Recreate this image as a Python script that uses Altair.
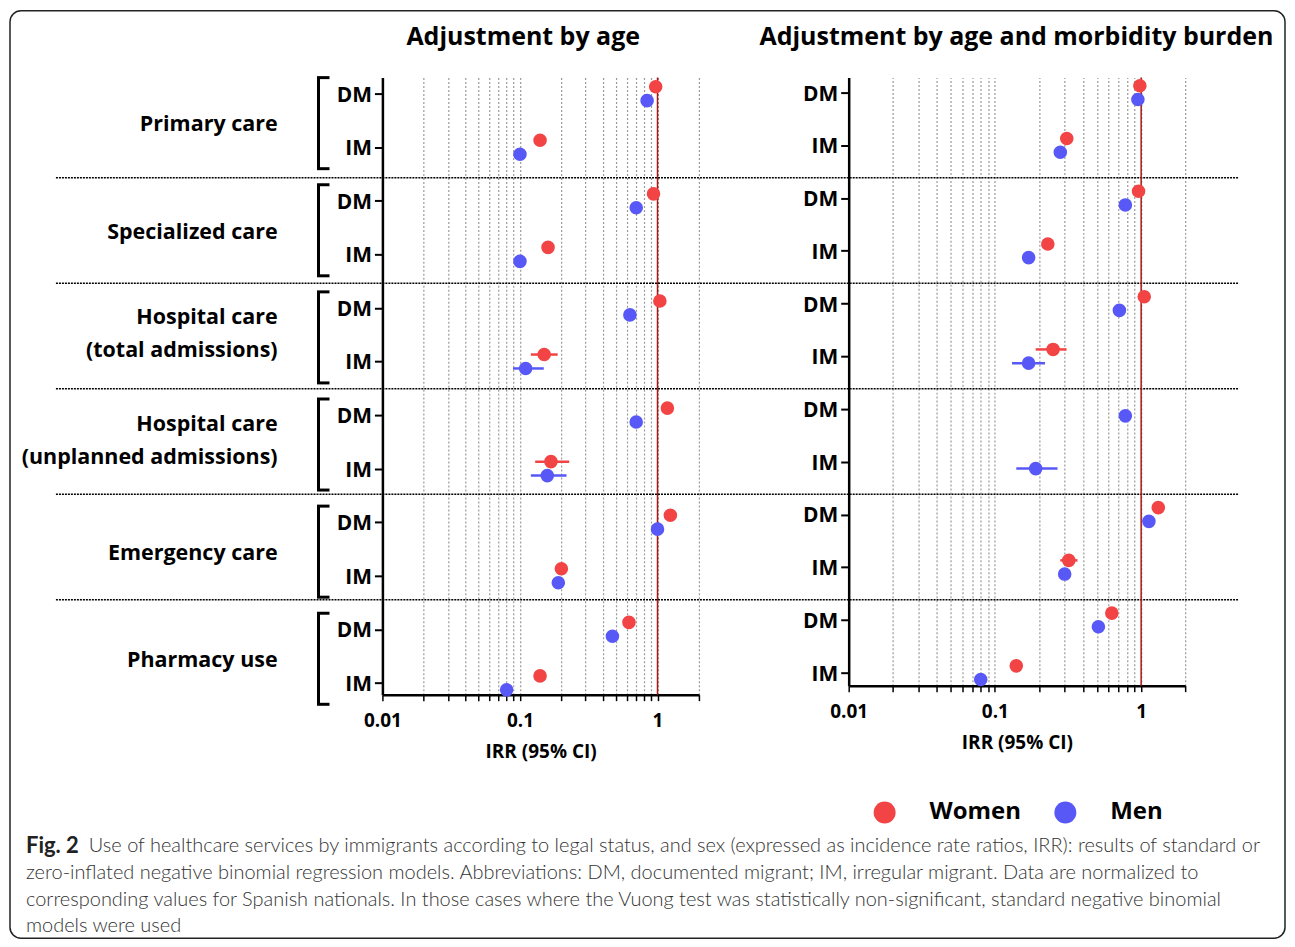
import altair as alt
import pandas as pd

# ---------------- data ----------------
CATEGORIES = [
    "Primary care",
    "Specialized care",
    "Hospital care\n(total admissions)",
    "Hospital care\n(unplanned admissions)",
    "Emergency care",
    "Pharmacy use",
]
STATUS = ["DM", "IM"]
SEXES = ["Women", "Men"]
SEX_COLORS = ["#F24444", "#5858F6"]
PANEL_TITLES = ["Adjustment by age", "Adjustment by age and morbidity burden"]
X_TITLE = "IRR (95% CI)"
X_TICKS = [0.01, 0.02, 0.03, 0.04, 0.05, 0.06, 0.07, 0.08, 0.09,
           0.1, 0.2, 0.3, 0.4, 0.5, 0.6, 0.7, 0.8, 0.9, 1, 2]
REF_VALUE = [1]

# Panel 1: adjustment by age
age_women_dm = [0.97, 0.935, 1.04, 1.18, 1.24, 0.62]
age_women_im = [0.14, 0.16, 0.15, 0.168, 0.20, 0.14]
age_men_dm = [0.84, 0.70, 0.63, 0.70, 1.00, 0.47]
age_men_im = [0.10, 0.10, 0.11, 0.158, 0.19, 0.08]
age_women_im_lo = [None, None, 0.12, 0.129, None, None]
age_women_im_hi = [None, None, 0.188, 0.228, None, None]
age_men_im_lo = [None, None, 0.089, 0.12, None, None]
age_men_im_hi = [None, None, 0.149, 0.218, None, None]

# Panel 2: adjustment by age and morbidity burden
mb_women_dm = [0.98, 0.96, 1.05, None, 1.31, 0.63]
mb_women_im = [0.31, 0.23, 0.25, None, 0.32, 0.14]
mb_men_dm = [0.95, 0.78, 0.71, 0.78, 1.13, 0.51]
mb_men_im = [0.28, 0.17, 0.17, 0.19, 0.30, 0.08]
mb_women_im_lo = [None, None, 0.19, None, 0.28, None]
mb_women_im_hi = [None, None, 0.309, None, 0.367, None]
mb_men_im_lo = [None, None, 0.131, 0.14, None, None]
mb_men_im_hi = [None, None, 0.22, 0.268, None, None]

CAPTION_BOLD = "Fig. 2"
CAPTION_LINE1 = ("Use of healthcare services by immigrants according to legal status, and sex "
                 "(expressed as incidence rate ratios, IRR): results of standard or")
CAPTION_REST = [
    "zero-inflated negative binomial regression models. Abbreviations: DM, documented migrant; "
    "IM, irregular migrant. Data are normalized to",
    "corresponding values for Spanish nationals. In those cases where the Vuong test was "
    "statistically non-significant, standard negative binomial",
    "models were used",
]

# ---------------- styling ----------------
BOLD_FONT = "Open Sans"
TEXT_FONT = "Lato"
SEX_OFFSET = {"Women": -0.13, "Men": 0.13}


def build_points(w_dm, w_im, m_dm, m_im):
    recs = []
    for k, cat in enumerate(CATEGORIES):
        for s_i, (wv, mv) in enumerate([(w_dm[k], m_dm[k]), (w_im[k], m_im[k])]):
            for sex, v in (("Women", wv), ("Men", mv)):
                if v is not None:
                    recs.append({"pos": 2 * k + s_i + SEX_OFFSET[sex], "irr": v, "sex": sex})
    return pd.DataFrame(recs)


def build_ci(w_lo, w_hi, m_lo, m_hi):
    recs = []
    for k in range(len(CATEGORIES)):
        for sex, lo, hi in (("Women", w_lo[k], w_hi[k]), ("Men", m_lo[k], m_hi[k])):
            if lo is not None:
                recs.append({"pos": 2 * k + 1 + SEX_OFFSET[sex], "lo": lo, "hi": hi, "sex": sex})
    return pd.DataFrame(recs)


color_enc = alt.Color(
    "sex:N",
    scale=alt.Scale(domain=SEXES, range=SEX_COLORS),
    legend=alt.Legend(
        title=None, orient="none", legendX=491, legendY=724, direction="horizontal",
        symbolType="circle", symbolSize=484, symbolStrokeWidth=0, symbolOpacity=1,
        labelFont=BOLD_FONT, labelFontSize=24, labelFontWeight="bold", labelColor="black",
        labelOffset=33, columnPadding=32, padding=0,
    ),
)


def panel(points, ci, title, width, height, ydomain, title_x, with_labels, with_seps):
    xscale = alt.Scale(type="log", domain=[0.01, 2], nice=False)
    xaxis = alt.Axis(
        values=X_TICKS,
        labelExpr="datum.value == 0.01 ? '0.01' : datum.value == 0.1 ? '0.1' : datum.value == 1 ? '1' : ''",
        grid=True, gridDash=[2, 2], gridColor="#999999", gridWidth=1.2,
        domainColor="black", domainWidth=2.5, tickColor="black", tickWidth=1.5, tickSize=6,
        labelFont=BOLD_FONT, labelFontSize=19, labelFontWeight="bold", labelColor="black",
        labelPadding=11, labelFlush=False, labelOverlap=False,
        titleFont=BOLD_FONT, titleFontSize=19, titleFontWeight="bold", titleColor="black",
        titlePadding=12, title=X_TITLE,
    )
    yscale = alt.Scale(domain=ydomain, reverse=True, nice=False, zero=False)
    yaxis = alt.Axis(
        values=list(range(12)),
        labelExpr="datum.value % 2 == 0 ? 'DM' : 'IM'",
        grid=False, domainColor="black", domainWidth=2.5, tickColor="black", tickWidth=2,
        tickSize=8, labelFont=BOLD_FONT, labelFontSize=21, labelFontWeight="bold",
        labelColor="black", labelPadding=3, labelBaseline="middle", labelOverlap=False,
        labelFlush=False, title=None, labelBound=False, labelOffset=1.5,
    )
    y_enc = alt.Y("pos:Q", scale=yscale, axis=yaxis)

    ref = alt.Chart(pd.DataFrame({"irr": REF_VALUE})).mark_rule(
        color="#A81616", strokeWidth=1.5
    ).encode(x=alt.X("irr:Q", scale=xscale, axis=xaxis))

    bars = alt.Chart(ci).mark_rule(strokeWidth=2.5).encode(
        x=alt.X("lo:Q", scale=xscale, axis=xaxis), x2="hi:Q", y=y_enc, color=color_enc,
    )
    dots = alt.Chart(points).mark_circle(size=185, opacity=1).encode(
        x=alt.X("irr:Q", scale=xscale, axis=xaxis), y=y_enc, color=color_enc,
    )
    title_layer = alt.Chart(pd.DataFrame({"t": [title]})).mark_text(
        align="center", baseline="alphabetic", font=BOLD_FONT, fontSize=25,
        fontWeight="bold", color="black",
    ).encode(text="t:N", x=alt.value(title_x), y=alt.value(-33))
    layers = [ref, bars, dots, title_layer]

    if with_seps:
        # dotted separators between service groups, running across both panels
        seps = pd.DataFrame({"pos": [2 * k + 1.615 for k in range(5)]})
        sep_layer = alt.Chart(seps).mark_rule(
            color="black", strokeWidth=1.5, strokeDash=[2, 1]
        ).encode(y=y_enc, x=alt.value(-794), x2=alt.value(391))
        layers = [sep_layer] + layers

    if with_labels:
        frame = alt.Chart(pd.DataFrame({"f": [0]})).mark_rect(
            fillOpacity=0, stroke="#222222", strokeWidth=1.5, cornerRadius=11
        ).encode(x=alt.value(-373), x2=alt.value(904), y=alt.value(-67), y2=alt.value(862))

        groups = pd.DataFrame({
            "label": CATEGORIES,
            "nlines": [c.count("\n") + 1 for c in CATEGORIES],
            "mid": [2 * k + 0.5 for k in range(len(CATEGORIES))],
            "top": [2 * k - 0.3 for k in range(len(CATEGORIES))],
            "bottom": [2 * k + 1.4 for k in range(len(CATEGORIES))],
        })
        one = groups[groups["nlines"] == 1]
        two = groups[groups["nlines"] == 2]
        txt_kw = dict(align="right", baseline="middle", font=BOLD_FONT, fontSize=21.5,
                      fontWeight="bold", color="black", lineBreak="\n", lineHeight=33)
        cat_one = alt.Chart(one).mark_text(dy=5, **txt_kw).encode(
            y=alt.Y("mid:Q", scale=yscale, axis=yaxis), x=alt.value(-105), text="label:N")
        cat_two = alt.Chart(two).mark_text(dy=-16.5, **txt_kw).encode(
            y=alt.Y("mid:Q", scale=yscale, axis=yaxis), x=alt.value(-105), text="label:N")
        br_v = alt.Chart(groups).mark_rule(color="black", strokeWidth=3).encode(
            y=alt.Y("top:Q", scale=yscale, axis=yaxis), y2="bottom:Q", x=alt.value(-64))
        br_t = alt.Chart(groups).mark_rule(color="black", strokeWidth=3).encode(
            y=alt.Y("top:Q", scale=yscale, axis=yaxis), x=alt.value(-65.5), x2=alt.value(-53))
        br_b = alt.Chart(groups).mark_rule(color="black", strokeWidth=3).encode(
            y=alt.Y("bottom:Q", scale=yscale, axis=yaxis), x=alt.value(-65.5), x2=alt.value(-53))

        cap_bold = alt.Chart(pd.DataFrame({"t": [CAPTION_BOLD]})).mark_text(
            align="left", baseline="middle", font=TEXT_FONT, fontSize=22, fontWeight="bold",
            color="#222222",
        ).encode(text="t:N", x=alt.value(-357), y=alt.value(770))
        cap1 = alt.Chart(pd.DataFrame({"t": [CAPTION_LINE1]})).mark_text(
            align="left", baseline="middle", font=TEXT_FONT, fontSize=20, fontWeight=300,
            color="#333333",
        ).encode(text="t:N", x=alt.value(-294), y=alt.value(770))
        cap_rest = alt.Chart(pd.DataFrame({"t": ["\n".join(CAPTION_REST)]})).mark_text(
            align="left", baseline="middle", font=TEXT_FONT, fontSize=20, fontWeight=300,
            color="#333333", lineBreak="\n", lineHeight=26.5,
        ).encode(text="t:N", x=alt.value(-357), y=alt.value(797))
        layers = [frame, br_v, br_t, br_b, cat_one, cat_two, cap_bold, cap1, cap_rest] + layers

    return alt.layer(*layers).properties(width=width, height=height)


left = panel(
    build_points(age_women_dm, age_women_im, age_men_dm, age_men_im),
    build_ci(age_women_im_lo, age_women_im_hi, age_men_im_lo, age_men_im_hi),
    PANEL_TITLES[0], 317, 618, [-0.3, 11.22], 141, True, False,
)
right = panel(
    build_points(mb_women_dm, mb_women_im, mb_men_dm, mb_men_im),
    build_ci(mb_women_im_lo, mb_women_im_hi, mb_men_im_lo, mb_men_im_hi),
    PANEL_TITLES[1], 337, 609, [-0.284, 11.246], 168, False, True,
)

chart = alt.hconcat(left, right, spacing=150, bounds="flush").resolve_scale(
    x="independent", y="independent", color="shared"
).properties(padding=0).configure_view(stroke="transparent")

chart.save("out.html", embed_options={"renderer": "svg", "actions": False})
